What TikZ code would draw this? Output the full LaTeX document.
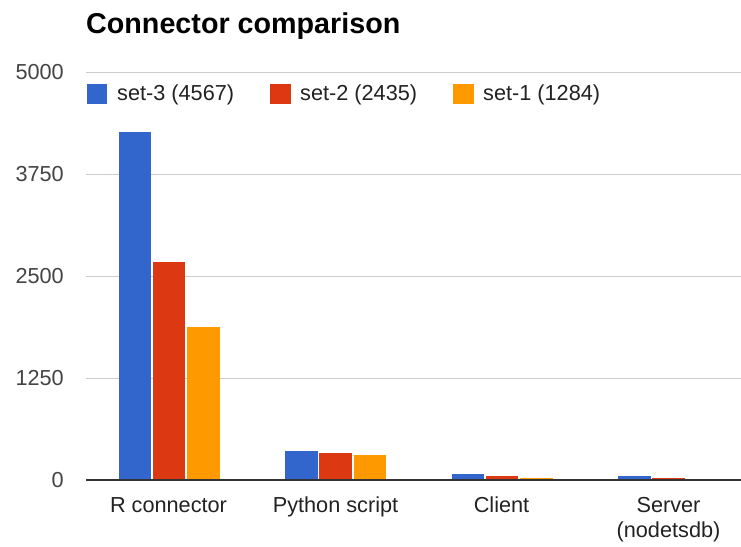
\documentclass[tikz,border=0pt]{standalone}
\usepackage{fontspec}
\setmainfont{Liberation Sans}
\definecolor{sthree}{HTML}{3366CC}
\definecolor{stwo}{HTML}{DC3912}
\definecolor{sone}{HTML}{FF9900}
\definecolor{gridc}{HTML}{CCCCCC}
\definecolor{basec}{HTML}{333333}
\definecolor{ticktext}{HTML}{444444}
\definecolor{labeltext}{HTML}{222222}
\begin{document}
\begin{tikzpicture}[x=1pt,y=-1pt,
  lbl/.style={font=\fontsize{21.7}{25.5}\selectfont, inner sep=0pt},
  ticklbl/.style={lbl, text=ticktext, anchor=east},
  catlbl/.style={lbl, text=labeltext, anchor=base, align=center},
  legtext/.style={lbl, text=labeltext, anchor=base west},
  gridline/.style={draw=gridc, line width=1.2pt},
  baseline/.style={draw=basec, line width=1.8pt}]
\useasboundingbox (0,0) rectangle (741,546);
\fill[white] (0,0) rectangle (741,546);

% value -> vertical position
\def\vy#1{480-#1*0.0815}

% title
\node[anchor=base west, inner sep=0pt, font=\fontsize{28.7}{32}\selectfont\bfseries] (title) at (86,33) {Connector comparison};

% horizontal grid and tick labels
\foreach \v/\nm in {1250/a,2500/b,3750/c,5000/d}{
  \draw[gridline] (86,{\vy{\v}}) -- (741,{\vy{\v}});
  \node[ticklbl] (tick\nm) at (64,{\vy{\v}}) {\v};
}
\node[ticklbl] (tick0) at (64,480) {0};

% legend
\fill[sthree] (87,84) rectangle (107,103.5);
\node[legtext] (leg3) at (117,100) {set-3 (4567)};
\fill[stwo] (270,84) rectangle (290.5,103.5);
\node[legtext] (leg2) at (300,100) {set-2 (2435)};
\fill[sone] (453,84) rectangle (473.5,103.5);
\node[legtext] (leg1) at (483,100) {set-1 (1284)};

% bars: group index / set-3 / set-2 / set-1
\foreach \g/\a/\b/\c in {0/4265/2680/1875, 1/355/331/306, 2/74/49/25, 3/49/25/18}{
  \pgfmathsetmacro\xl{118.5+166.5*\g}
  \fill[sthree] (\xl,480) rectangle ({\xl+32.6},{\vy{\a}});
  \fill[stwo] ({\xl+34.3},480) rectangle ({\xl+66.9},{\vy{\b}});
  \fill[sone] ({\xl+68.6},480) rectangle ({\xl+101.2},{\vy{\c}});
}

% axis baseline
\draw[baseline] (86,480) -- (741,480);

% category labels (a two-line label is anchored on its last line)
\node[catlbl] (catR) at (168.5,512) {R connector};
\node[catlbl] (catP) at (335.5,512) {Python script};
\node[catlbl] (catC) at (501.5,512) {Client};
\node[catlbl] (catS) at (668.5,537.5) {Server\\(nodetsdb)};
\end{tikzpicture}
\end{document}
